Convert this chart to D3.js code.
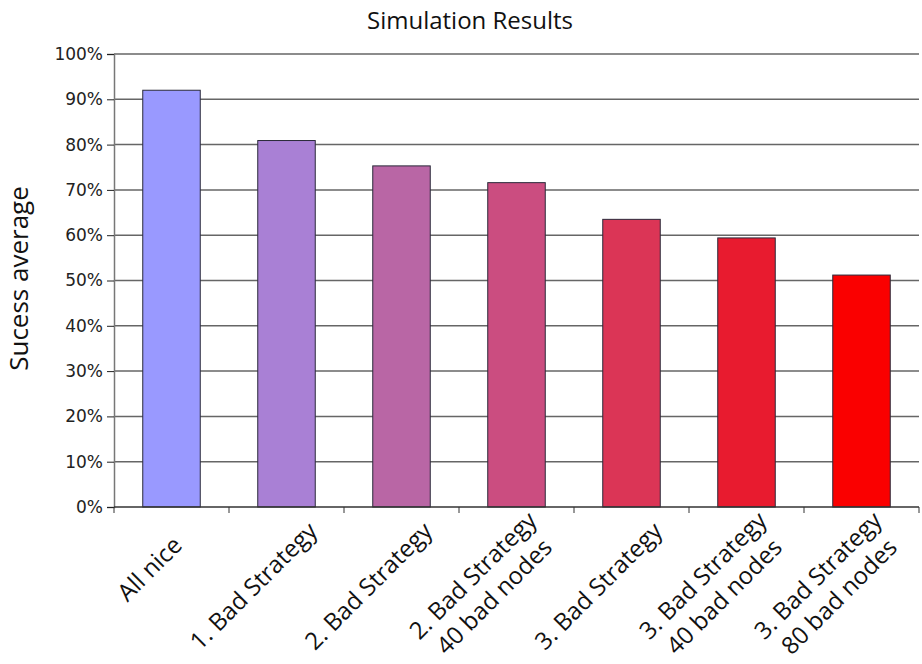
<!DOCTYPE html>
<html>
<head>
<meta charset="utf-8">
<script src="https://cdn.jsdelivr.net/npm/d3@7/dist/d3.min.js"></script>
<style>
  html, body { margin: 0; padding: 0; background: #fff; }
  svg { display: block; }
</style>
</head>
<body>
<script>
// Success rate per simulation scenario
const categories = [
  ["All nice"],
  ["1. Bad Strategy"],
  ["2. Bad Strategy"],
  ["2. Bad Strategy", "40 bad nodes"],
  ["3. Bad Strategy"],
  ["3. Bad Strategy", "40 bad nodes"],
  ["3. Bad Strategy", "80 bad nodes"]
];
const successAverage = [92.0, 80.9, 75.3, 71.6, 63.5, 59.4, 51.2];
const barColors = ["#9999ff", "#a980d5", "#b966a5", "#cb4d80", "#db3556", "#e81b2f", "#fa0000"];
const yTicks = [0, 10, 20, 30, 40, 50, 60, 70, 80, 90, 100];
const chartTitle = "Simulation Results";
const yTitle = "Sucess average";

const W = 922, H = 664;
const margin = { left: 114, right: 3, top: 54, bottom: 157 };

const svg = d3.select("body").append("svg")
  .attr("width", W).attr("height", H);

const keys = categories.map((c, i) => i);
const x = d3.scaleBand()
  .domain(keys)
  .range([margin.left, W - margin.right])
  .paddingInner(0.5)
  .paddingOuter(0.25);

const y = d3.scaleLinear()
  .domain([0, 100])
  .range([H - margin.bottom, margin.top]);

// horizontal gridlines
svg.append("g")
  .selectAll("line")
  .data(yTicks.filter(t => t > 0))
  .join("line")
  .attr("x1", margin.left).attr("x2", W - margin.right)
  .attr("y1", d => y(d)).attr("y2", d => y(d))
  .attr("stroke", "#666").attr("stroke-width", 1.5);

// bars
svg.append("g")
  .selectAll("rect")
  .data(successAverage)
  .join("rect")
  .attr("x", (d, i) => x(i))
  .attr("y", d => y(d))
  .attr("width", x.bandwidth())
  .attr("height", d => y(0) - y(d))
  .attr("fill", (d, i) => barColors[i])
  .attr("stroke", "#2a2a3a").attr("stroke-width", 1);

// y axis
const yAxis = d3.axisLeft(y)
  .tickValues(yTicks)
  .tickSize(7)
  .tickPadding(4)
  .tickFormat(d => d + "%");
const gy = svg.append("g")
  .attr("transform", `translate(${margin.left},0)`)
  .call(yAxis);
gy.select(".domain").attr("stroke", "#777").attr("stroke-width", 1.5);
gy.selectAll(".tick line").attr("stroke", "#222");
gy.selectAll(".tick text")
  .attr("font-family", "DejaVu Sans, Verdana, sans-serif")
  .attr("font-size", 17)
  .attr("fill", "#222");

// x axis baseline with ticks between categories
const step = x.step();
const x0 = x.range()[0];
const gx = svg.append("g");
gx.append("line")
  .attr("x1", margin.left).attr("x2", W - margin.right)
  .attr("y1", y(0)).attr("y2", y(0))
  .attr("stroke", "#333").attr("stroke-width", 1.5);
gx.selectAll("line.tk")
  .data(d3.range(categories.length + 1))
  .join("line")
  .attr("class", "tk")
  .attr("x1", i => x0 + i * step).attr("x2", i => x0 + i * step)
  .attr("y1", y(0)).attr("y2", y(0) + 6)
  .attr("stroke", "#333").attr("stroke-width", 1);

// rotated category labels: lines centred on each other, the block
// hanging below the axis and drifting left/down as it gets longer
const labelFont = 24, lineH = 30;
const lab = svg.append("g")
  .selectAll("g")
  .data(categories)
  .join("g");
lab.each(function (lines, i) {
  const g = d3.select(this);
  const n = lines.length;
  let wMax = 0;
  lines.forEach((t, j) => {
    const tx = g.append("text")
      .attr("x", 0)
      .attr("y", (j - (n - 1) / 2) * lineH + 7)
      .attr("text-anchor", "middle")
      .attr("font-family", "Open Sans, sans-serif")
      .attr("font-size", labelFont)
      .attr("fill", "#111")
      .text(t);
    wMax = Math.max(wMax, tx.node().getComputedTextLength());
  });
  const cx = x(i) + x.bandwidth() / 2 - 11 - 0.125 * wMax;
  const cy = y(0) + 47.5 + 0.193 * wMax;
  g.attr("transform", `translate(${cx},${cy}) rotate(-45)`);
});

// titles
svg.append("text")
  .attr("x", 470).attr("y", 29)
  .attr("text-anchor", "middle")
  .attr("font-family", "Open Sans, sans-serif")
  .attr("font-size", 24)
  .attr("fill", "#111")
  .text(chartTitle);

svg.append("text")
  .attr("transform", `translate(28,${(y(0) + y(100)) / 2 - 2}) rotate(-90)`)
  .attr("text-anchor", "middle")
  .attr("font-family", "Open Sans, sans-serif")
  .attr("font-size", 26)
  .attr("fill", "#111")
  .text(yTitle);
</script>
</body>
</html>
